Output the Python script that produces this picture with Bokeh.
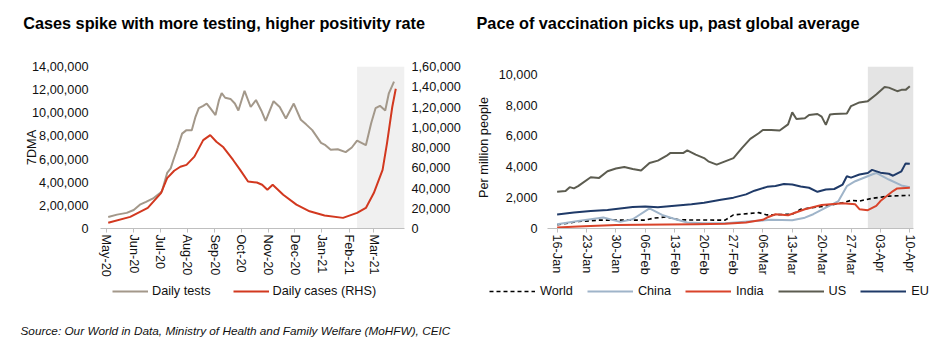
import pandas as pd
from bokeh.plotting import figure
from bokeh.models import (Range1d, LinearAxis, FixedTicker, DatetimeTickFormatter,
                          Legend, LegendItem, BoxAnnotation)
from bokeh.layouts import column, row
from bokeh.embed import file_html
from bokeh.resources import INLINE
from bokeh.core.properties import value

# ---------------- data: left chart (India testing / cases, 7DMA) ----------------
tests_dates = ["2020-05-03", "2020-05-13", "2020-05-24", "2020-06-01", "2020-06-08", "2020-06-15",
               "2020-06-23", "2020-07-03", "2020-07-09", "2020-07-13", "2020-07-16", "2020-07-21",
               "2020-07-26", "2020-07-31", "2020-08-06", "2020-08-10", "2020-08-14", "2020-08-19",
               "2020-08-23", "2020-08-27", "2020-09-02", "2020-09-06", "2020-09-09", "2020-09-13",
               "2020-09-19", "2020-09-24", "2020-09-28", "2020-10-05", "2020-10-12", "2020-10-18",
               "2020-10-24", "2020-10-29", "2020-11-07", "2020-11-14", "2020-11-21", "2020-11-30",
               "2020-12-08", "2020-12-14", "2020-12-21", "2020-12-31", "2021-01-05", "2021-01-11",
               "2021-01-19", "2021-01-28", "2021-02-04", "2021-02-10", "2021-02-20", "2021-02-26",
               "2021-03-03", "2021-03-08", "2021-03-14", "2021-03-18", "2021-03-24"]
tests_values = [100000, 120000, 135000, 160000, 206000, 230000,
                260000, 320000, 480000, 520000, 590000, 700000,
                820000, 850000, 850000, 960000, 1040000, 1060000,
                1080000, 1040000, 980000, 1110000, 1170000, 1130000,
                1120000, 1080000, 1020000, 1190000, 1050000, 1110000,
                1020000, 930000, 1100000, 1050000, 950000, 1080000,
                940000, 900000, 850000, 740000, 720000, 680000,
                685000, 660000, 700000, 760000, 720000, 910000,
                1040000, 1060000, 1020000, 1165000, 1270000]

cases_dates = ["2020-05-03", "2020-05-28", "2020-06-17", "2020-07-02", "2020-07-09", "2020-07-17",
               "2020-07-24", "2020-07-31", "2020-08-09", "2020-08-19", "2020-08-27", "2020-09-03",
               "2020-09-11", "2020-09-22", "2020-09-30", "2020-10-09", "2020-10-19", "2020-10-25",
               "2020-10-31", "2020-11-06", "2020-11-18", "2020-12-03", "2020-12-18", "2021-01-04",
               "2021-01-25", "2021-02-10", "2021-02-20", "2021-03-01", "2021-03-11", "2021-03-16",
               "2021-03-22", "2021-03-26"]
cases_values = [5600, 11500, 20300, 35000, 49700, 57000,
                61000, 62800, 71000, 87300, 92200, 85700,
                80200, 67700, 57900, 46400, 45400, 43200,
                38300, 43200, 33400, 23600, 17000, 12800,
                10500, 15400, 20300, 35000, 57900, 84100,
                120000, 138000]

left_month_ticks = ["2020-05-01", "2020-06-01", "2020-07-01", "2020-08-01", "2020-09-01", "2020-10-01",
                    "2020-11-01", "2020-12-01", "2021-01-01", "2021-02-01", "2021-03-01"]
left_y_ticks = [0, 200000, 400000, 600000, 800000, 1000000, 1200000, 1400000]
left_y_labels = ["0", "2,00,000", "4,00,000", "6,00,000", "8,00,000", "10,00,000", "12,00,000", "14,00,000"]
rhs_y_ticks = [0, 20000, 40000, 60000, 80000, 100000, 120000, 140000, 160000]
rhs_y_labels = ["0", "20,000", "40,000", "60,000", "80,000", "1,00,000", "1,20,000", "1,40,000", "1,60,000"]
left_shade_start = "2021-02-10"
left_series = ["Daily tests", "Daily cases (RHS)"]

# ---------------- data: right chart (vaccination per million people) ----------------
world_dates = ["2021-01-16", "2021-01-21", "2021-01-26", "2021-02-06", "2021-02-08", "2021-02-11",
               "2021-02-14", "2021-02-25", "2021-02-27", "2021-03-05", "2021-03-07", "2021-03-13",
               "2021-03-15", "2021-03-21", "2021-03-25", "2021-03-27", "2021-03-29", "2021-04-01",
               "2021-04-05", "2021-04-10"]
world_values = [240, 450, 540, 540, 670, 750,
                560, 540, 880, 1030, 880, 925,
                1250, 1460, 1670, 1825, 1780, 1955,
                2100, 2150]

china_dates = ["2021-01-16", "2021-01-21", "2021-01-27", "2021-01-31", "2021-02-03", "2021-02-07",
               "2021-02-10", "2021-02-13", "2021-02-16", "2021-02-20", "2021-02-25", "2021-03-04",
               "2021-03-08", "2021-03-13", "2021-03-16", "2021-03-18", "2021-03-21", "2021-03-24",
               "2021-03-26", "2021-03-28", "2021-04-01", "2021-04-02", "2021-04-05", "2021-04-08",
               "2021-04-10"]
china_values = [280, 480, 710, 430, 600, 1310,
                880, 620, 385, 345, 345, 480,
                560, 540, 700, 925, 1350, 1780,
                2745, 3065, 3500, 3600, 3175, 2790,
                2680]

india_dates = ["2021-01-16", "2021-01-21", "2021-01-30", "2021-02-11", "2021-02-18", "2021-02-25",
               "2021-03-02", "2021-03-06", "2021-03-07", "2021-03-09", "2021-03-12", "2021-03-16",
               "2021-03-20", "2021-03-25", "2021-03-28", "2021-03-29", "2021-03-31", "2021-04-02",
               "2021-04-03", "2021-04-06", "2021-04-07", "2021-04-10"]
india_values = [65, 130, 220, 260, 280, 300,
                385, 560, 710, 925, 860, 1250,
                1525, 1635, 1570, 1250, 1185, 1460,
                1780, 2425, 2600, 2635]

us_dates = ["2021-01-16", "2021-01-18", "2021-01-19", "2021-01-20", "2021-01-21", "2021-01-24",
            "2021-01-26", "2021-01-28", "2021-01-30", "2021-02-01", "2021-02-03", "2021-02-05",
            "2021-02-07", "2021-02-09", "2021-02-11", "2021-02-12", "2021-02-15", "2021-02-16",
            "2021-02-18", "2021-02-20", "2021-02-21", "2021-02-23", "2021-02-25", "2021-02-27",
            "2021-03-01", "2021-03-03", "2021-03-05", "2021-03-06", "2021-03-08", "2021-03-10",
            "2021-03-12", "2021-03-13", "2021-03-14", "2021-03-16", "2021-03-17", "2021-03-19",
            "2021-03-20", "2021-03-21", "2021-03-22", "2021-03-23", "2021-03-26", "2021-03-27",
            "2021-03-29", "2021-03-31", "2021-04-02", "2021-04-04", "2021-04-05", "2021-04-07",
            "2021-04-08", "2021-04-09", "2021-04-10"]
us_values = [2380, 2425, 2680, 2600, 2745, 3325,
             3280, 3710, 3885, 3990, 3860, 3755,
             4245, 4400, 4700, 4900, 4890, 5060,
             4785, 4565, 4355, 4140, 4355, 4565,
             5210, 5810, 6175, 6390, 6390, 6350,
             6750, 7525, 7100, 7140, 7355, 7420,
             7250, 6715, 7395, 7420, 7460, 7935,
             8170, 8255, 8680, 9175, 9130, 8900,
             8985, 8985, 9220]

eu_dates = ["2021-01-16", "2021-01-20", "2021-01-24", "2021-01-28", "2021-01-31", "2021-02-03",
            "2021-02-06", "2021-02-09", "2021-02-13", "2021-02-17", "2021-02-20", "2021-02-24",
            "2021-02-27", "2021-03-02", "2021-03-04", "2021-03-07", "2021-03-09", "2021-03-11",
            "2021-03-13", "2021-03-15", "2021-03-17", "2021-03-19", "2021-03-21", "2021-03-23",
            "2021-03-25", "2021-03-26", "2021-03-27", "2021-03-29", "2021-03-31", "2021-04-01",
            "2021-04-03", "2021-04-05", "2021-04-06", "2021-04-08", "2021-04-09", "2021-04-10"]
eu_values = [900, 1030, 1140, 1200, 1300, 1400,
             1430, 1380, 1480, 1570, 1670, 1860,
             2000, 2210, 2450, 2700, 2760, 2880,
             2850, 2720, 2640, 2380, 2530, 2560,
             2850, 3390, 3300, 3500, 3600, 3800,
             3620, 3550, 3420, 3710, 4220, 4200]

right_week_ticks = ["2021-01-16", "2021-01-23", "2021-01-30", "2021-02-06", "2021-02-13", "2021-02-20",
                    "2021-02-27", "2021-03-06", "2021-03-13", "2021-03-20", "2021-03-27", "2021-04-03",
                    "2021-04-10"]
right_y_ticks = [0, 2000, 4000, 6000, 8000, 10000]
right_y_labels = ["0", "2,000", "4,000", "6,000", "8,000", "10,000"]
right_shade_start = "2021-03-31"
right_series = ["World", "China", "India", "US", "EU"]

titles = ["Cases spike with more testing, higher positivity rate",
          "Pace of vaccination picks up, past global average"]
source_text = "Source: Our World in Data, Ministry of Health and Family Welfare (MoHFW), CEIC"

# ---------------- styling ----------------
FONT = "Liberation Sans"
TICK_FS = "12.7px"
TXT = "#111111"
AXIS_GREY = "#bfbfbf"
C_TESTS, C_CASES = "#a3988a", "#d2381f"
C_WORLD, C_CHINA, C_INDIA, C_US, C_EU = "#000000", "#9fb4c9", "#d9432a", "#5c5c50", "#1f3a68"


def ms(s):
    return pd.Timestamp(s).value / 1e6


def dts(lst):
    return pd.to_datetime(lst)


def strip(w, h):
    f = figure(width=w, height=h, x_range=Range1d(0, w), y_range=Range1d(0, h),
               output_backend="svg", toolbar_location=None, min_border=0,
               x_axis_location=None, y_axis_location=None)
    f.grid.visible = False
    f.outline_line_color = None
    return f


def style_x(p, ticks, fmt):
    ax = p.xaxis[0]
    ax.ticker = FixedTicker(ticks=[ms(d) for d in ticks])
    ax.formatter = DatetimeTickFormatter(days=fmt, months=fmt, years=fmt)
    ax.major_label_orientation = "vertical"
    ax.axis_line_color = AXIS_GREY
    ax.major_tick_line_color = AXIS_GREY
    ax.major_tick_out = 4
    ax.major_tick_in = 0
    ax.minor_tick_line_color = None
    ax.major_label_standoff = 2
    ax.major_label_text_font = FONT
    ax.major_label_text_font_size = TICK_FS
    ax.major_label_text_color = TXT


def style_y(ax, standoff):
    ax.axis_line_color = None
    ax.major_tick_line_color = None
    ax.minor_tick_line_color = None
    ax.major_label_standoff = standoff
    ax.major_label_text_font = FONT
    ax.major_label_text_font_size = TICK_FS
    ax.major_label_text_color = TXT
    ax.axis_label_text_font = FONT
    ax.axis_label_text_font_size = "12.7px"
    ax.axis_label_text_font_style = "normal"
    ax.axis_label_text_color = TXT


def make_legend(items, glyph_w, spacing, standoff, loc):
    return Legend(items=items, orientation="horizontal", location=loc,
                  border_line_color=None, background_fill_alpha=0,
                  label_text_font=FONT, label_text_font_size=TICK_FS, label_text_color=TXT,
                  glyph_width=glyph_w, glyph_height=14, label_height=14, label_width=0,
                  spacing=spacing, label_standoff=standoff, padding=2, margin=0)


# ---------------- title strip ----------------
t = strip(938, 40)
t.text(x=[22.7, 476], y=[18, 18], text=titles, text_font=value(FONT), text_font_size="16.25px",
       text_font_style="bold", text_baseline="alphabetic", text_color="#000000")

# ---------------- left chart ----------------
p1 = figure(width=473, height=241, output_backend="svg", toolbar_location=None,
            x_axis_type="datetime",
            x_range=Range1d(ms("2020-04-24 05:00"), ms("2021-04-04 22:00")),
            y_range=Range1d(0, 1400000),
            min_border_left=100, min_border_right=69, min_border_top=26, min_border_bottom=52)
p1.extra_y_ranges = {"rhs": Range1d(0, 160000)}
p1.grid.visible = False
p1.outline_line_color = None
p1.add_layout(BoxAnnotation(left=ms(left_shade_start), fill_color="#f0f0f0", fill_alpha=1,
                            line_alpha=0, level="underlay"))

p1.line(dts(tests_dates), tests_values, line_color=C_TESTS, line_width=2)
p1.line(dts(cases_dates), cases_values, line_color=C_CASES, line_width=2, y_range_name="rhs")

style_x(p1, left_month_ticks, "%b-%y")
ly = p1.yaxis[0]
ly.ticker = FixedTicker(ticks=left_y_ticks)
ly.major_label_overrides = dict(zip(left_y_ticks, left_y_labels))
ly.axis_label = "7DMA"
ly.axis_label_standoff = -10
style_y(ly, 6)

ry = LinearAxis(y_range_name="rhs", ticker=FixedTicker(ticks=rhs_y_ticks),
                major_label_overrides=dict(zip(rhs_y_ticks, rhs_y_labels)))
style_y(ry, 1)
p1.add_layout(ry, "right")

# ---------------- right chart ----------------
p2 = figure(width=465, height=241, output_backend="svg", toolbar_location=None,
            x_axis_type="datetime",
            x_range=Range1d(ms("2021-01-13 17:00"), ms("2021-04-10 21:00")),
            y_range=Range1d(0, 10500),
            min_border_left=69, min_border_right=25, min_border_top=25, min_border_bottom=53)
p2.grid.visible = False
p2.outline_line_color = None
p2.add_layout(BoxAnnotation(left=ms(right_shade_start), fill_color="#e4e4e4", fill_alpha=1,
                            line_alpha=0, level="underlay"))

p2.line(dts(world_dates), world_values, line_color=C_WORLD, line_width=1.6, line_dash="4 3")
p2.line(dts(china_dates), china_values, line_color=C_CHINA, line_width=2)
p2.line(dts(india_dates), india_values, line_color=C_INDIA, line_width=2)
p2.line(dts(us_dates), us_values, line_color=C_US, line_width=2)
p2.line(dts(eu_dates), eu_values, line_color=C_EU, line_width=2)

style_x(p2, right_week_ticks, "%d-%b")
ry2 = p2.yaxis[0]
ry2.ticker = FixedTicker(ticks=right_y_ticks)
ry2.major_label_overrides = dict(zip(right_y_ticks, right_y_labels))
ry2.axis_label = "Per million people"
ry2.axis_label_standoff = 5
style_y(ry2, 4)

# ---------------- legend strip ----------------
# the same series are drawn here, far outside this strip's pixel ranges, only to key the legends
lg = strip(938, 24)
k_tests = lg.line(dts(tests_dates), tests_values, line_color=C_TESTS, line_width=2)
k_cases = lg.line(dts(cases_dates), cases_values, line_color=C_CASES, line_width=2)
k_world = lg.line(dts(world_dates), world_values, line_color=C_WORLD, line_width=1.6, line_dash="4 3")
k_china = lg.line(dts(china_dates), china_values, line_color=C_CHINA, line_width=2)
k_india = lg.line(dts(india_dates), india_values, line_color=C_INDIA, line_width=2)
k_us = lg.line(dts(us_dates), us_values, line_color=C_US, line_width=2)
k_eu = lg.line(dts(eu_dates), eu_values, line_color=C_EU, line_width=2)

lg.add_layout(make_legend([LegendItem(label=left_series[0], renderers=[k_tests]),
                           LegendItem(label=left_series[1], renderers=[k_cases])],
                          36, 22, 4, (112, 7)))
lg.add_layout(make_legend([LegendItem(label=n, renderers=[r]) for n, r in
                           zip(right_series, [k_world, k_china, k_india, k_us, k_eu])],
                          46, 14, 5, (489, 7)))

# ---------------- source strip ----------------
s = strip(938, 38)
s.text(x=[20], y=[13], text=[source_text], text_font=value(FONT), text_font_size="11.8px",
       text_font_style="italic", text_baseline="alphabetic", text_color="#111111")

layout = column(t, row(p1, p2), lg, s)
open("out.html", "w").write(file_html(layout, INLINE))
